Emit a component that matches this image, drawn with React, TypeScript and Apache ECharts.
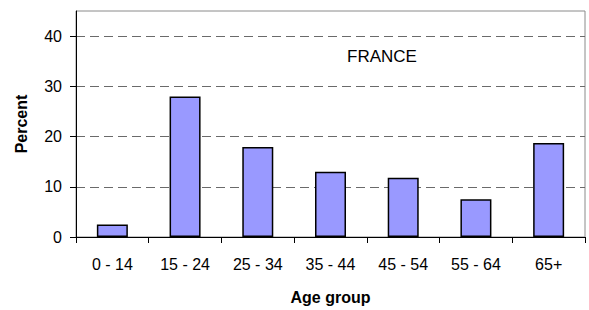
import React, { useEffect, useRef } from "react";
import * as echarts from "echarts";

const categories = ["0 - 14", "15 - 24", "25 - 34", "35 - 44", "45 - 54", "55 - 64", "65+"];
const percentValues = [2.5, 28, 17.9, 13, 11.8, 7.5, 18.7];
const yTicks = [0, 10, 20, 30, 40];
const chartTitle = "FRANCE";
const xAxisTitle = "Age group";
const yAxisTitle = "Percent";

const FONT = "Liberation Sans, Arial, sans-serif";

export default function App() {
  const ref = useRef<HTMLDivElement>(null);
  useEffect(() => {
    if (!ref.current) return;
    const chart = echarts.init(ref.current, null, { renderer: "svg" });
    chart.setOption({
      animation: false,
      backgroundColor: "#ffffff",
      grid: {
        left: 76,
        right: 4,
        top: 11,
        bottom: 71,
        show: true,
        borderColor: "#8a8a8a",
        borderWidth: 1,
        backgroundColor: "transparent",
      },
      graphic: [
        {
          type: "text",
          left: 347,
          top: 48,
          style: { text: chartTitle, font: `17px ${FONT}`, fill: "#000" },
        },
      ],
      xAxis: {
        type: "category",
        data: categories,
        boundaryGap: true,
        axisLine: { show: true, lineStyle: { color: "#000", width: 1 } },
        axisTick: { show: true, alignWithLabel: false, length: 6, lineStyle: { color: "#000" } },
        axisLabel: { fontFamily: FONT, fontSize: 16, color: "#000", margin: 19, interval: 0 },
        name: xAxisTitle,
        nameLocation: "middle",
        nameGap: 52,
        nameTextStyle: { fontFamily: FONT, fontSize: 16, fontWeight: "bold", color: "#000" },
        splitLine: { show: false },
      },
      yAxis: {
        type: "value",
        min: 0,
        max: 45,
        interval: 10,
        name: yAxisTitle,
        nameLocation: "middle",
        nameGap: 47,
        nameRotate: 90,
        nameTextStyle: { fontFamily: FONT, fontSize: 16, fontWeight: "bold", color: "#000" },
        axisLine: { show: true, lineStyle: { color: "#000", width: 1 } },
        axisTick: { show: true, length: 6, customValues: yTicks, lineStyle: { color: "#000" } },
        axisLabel: { fontFamily: FONT, fontSize: 16, color: "#000", margin: 14, customValues: yTicks },
        splitLine: {
          show: true,
          showMinLine: false,
          showMaxLine: true,
          lineStyle: { color: "#6a6a6a", type: [9, 5], width: 1 },
        },
      },
      series: [
        {
          type: "bar",
          data: percentValues,
          barWidth: 31,
          itemStyle: { color: "#9999ff", borderColor: "#000", borderWidth: 1.5 },
        },
      ],
    });
    return () => chart.dispose();
  }, []);
  return <div ref={ref} style={{ width: 589, height: 310, position: "absolute", left: 0, top: 0 }} />;
}
